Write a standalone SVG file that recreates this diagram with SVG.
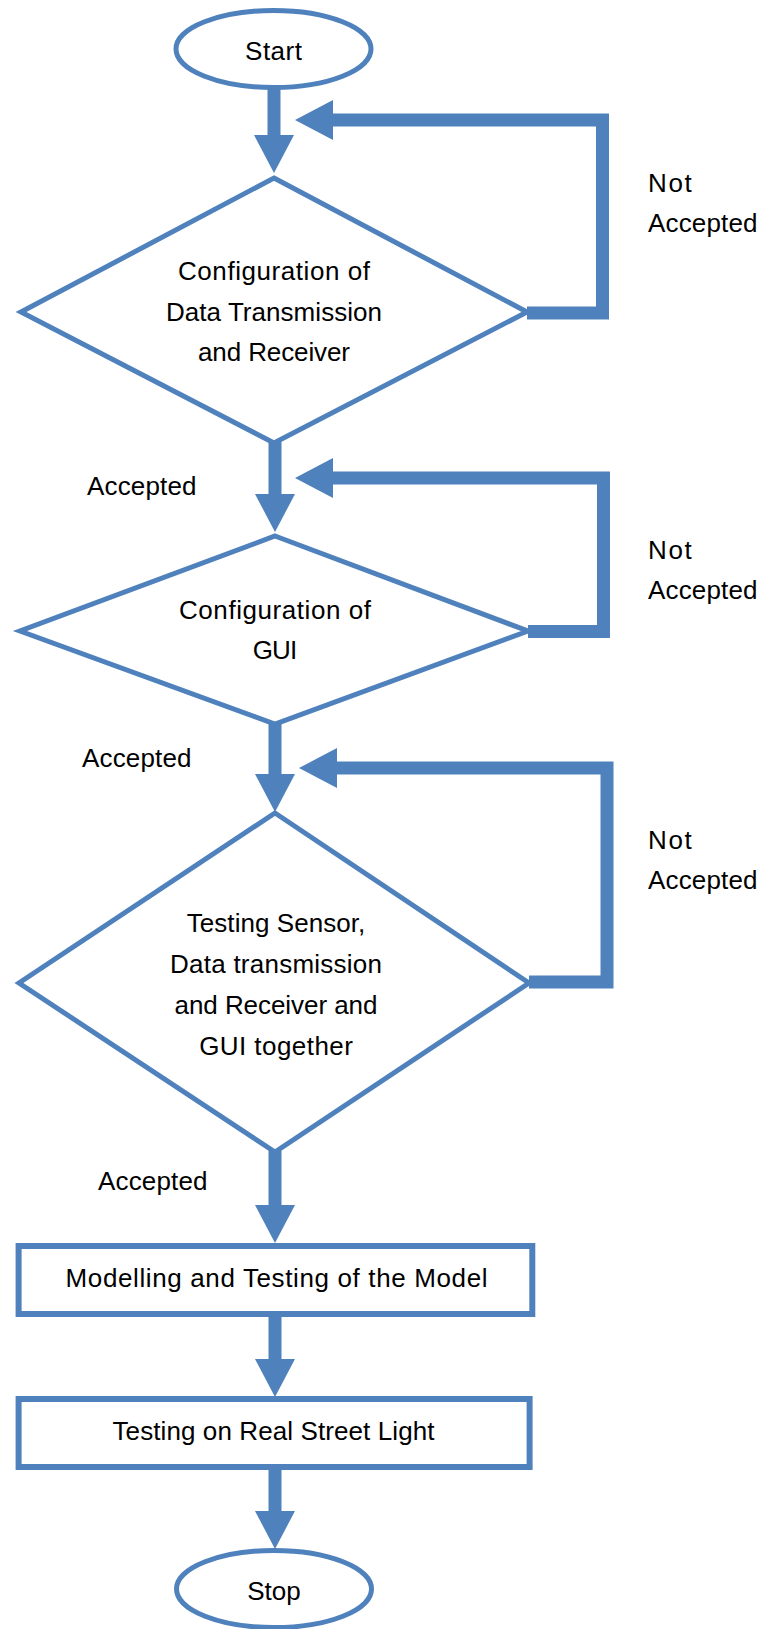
<svg xmlns="http://www.w3.org/2000/svg" width="763" height="1629" viewBox="0 0 763 1629">
  <style>
    .shape { fill: #ffffff; stroke: #4F81BD; stroke-width: 5; stroke-linejoin: miter; }
    .box { fill: #ffffff; stroke: #4F81BD; stroke-width: 6; }
    .conn { fill: none; stroke: #4F81BD; stroke-width: 13; stroke-linejoin: miter; stroke-linecap: butt; }
    .t { font-family: "Liberation Sans", Arial, sans-serif; font-size: 26px; fill: #000000; }
    .c { text-anchor: middle; }
  </style>
  <defs>
    <marker id="head" markerUnits="userSpaceOnUse" markerWidth="38" markerHeight="40" refX="0" refY="20" orient="auto" overflow="visible">
      <path d="M0,0 L38,20 L0,40 Z" fill="#4F81BD"/>
    </marker>
  </defs>
  <rect width="763" height="1629" fill="#ffffff"/>

  <g id="connectors">
    <path class="conn" d="M274,88 V135" marker-end="url(#head)"/>
    <path class="conn" d="M275,442 V494" marker-end="url(#head)"/>
    <path class="conn" d="M275,723 V774" marker-end="url(#head)"/>
    <path class="conn" d="M275,1151 V1205" marker-end="url(#head)"/>
    <path class="conn" d="M275,1316 V1359" marker-end="url(#head)"/>
    <path class="conn" d="M275,1469 V1511" marker-end="url(#head)"/>
    <path class="conn" d="M527,313 H602.5 V120 H333" marker-end="url(#head)"/>
    <path class="conn" d="M528,631.5 H603.5 V478 H333" marker-end="url(#head)"/>
    <path class="conn" d="M529,982 H607 V768 H337" marker-end="url(#head)"/>
  </g>

  <g id="start">
    <ellipse class="shape" cx="273.5" cy="49" rx="97.5" ry="38.5"/>
    <text class="t c" x="273.5" y="60" textLength="56.8" lengthAdjust="spacing">Start</text>
  </g>

  <g id="config-data">
    <polygon class="shape" points="274,178 527,312 274,443 21,312"/>
    <text class="t c" x="274" y="280" textLength="192" lengthAdjust="spacing">Configuration of</text>
    <text class="t c" x="274" y="320.5" textLength="216" lengthAdjust="spacing">Data Transmission</text>
    <text class="t c" x="274" y="360.5" textLength="152" lengthAdjust="spacing">and Receiver</text>
  </g>

  <g id="config-gui">
    <polygon class="shape" points="275,536 528,631 275,724 20,631"/>
    <text class="t c" x="275" y="619" textLength="192" lengthAdjust="spacing">Configuration of</text>
    <text class="t c" x="275" y="659" textLength="44.5" lengthAdjust="spacing">GUI</text>
  </g>

  <g id="testing-together">
    <polygon class="shape" points="275,813 529,983 275,1152 19,983"/>
    <text class="t c" x="276" y="932" textLength="178.5" lengthAdjust="spacing">Testing Sensor,</text>
    <text class="t c" x="276" y="973" textLength="211.8" lengthAdjust="spacing">Data transmission</text>
    <text class="t c" x="276" y="1014" textLength="203" lengthAdjust="spacing">and Receiver and</text>
    <text class="t c" x="276" y="1055" textLength="153.7" lengthAdjust="spacing">GUI together</text>
  </g>

  <g id="modelling">
    <rect class="box" x="18.6" y="1246" width="513.7" height="68"/>
    <text class="t c" x="276.5" y="1287" textLength="422" lengthAdjust="spacing">Modelling and Testing of the Model</text>
  </g>

  <g id="street-light">
    <rect class="box" x="18.6" y="1399" width="511" height="68"/>
    <text class="t c" x="273.5" y="1440" textLength="322" lengthAdjust="spacing">Testing on Real Street Light</text>
  </g>

  <g id="stop">
    <ellipse class="shape" cx="274" cy="1589" rx="97.5" ry="38.5"/>
    <text class="t c" x="274" y="1600" textLength="53.5" lengthAdjust="spacing">Stop</text>
  </g>

  <g id="labels">
    <text class="t" x="648" y="192" textLength="43.7" lengthAdjust="spacing">Not</text>
    <text class="t" x="648" y="232" textLength="109.5" lengthAdjust="spacing">Accepted</text>
    <text class="t" x="648" y="559" textLength="43.7" lengthAdjust="spacing">Not</text>
    <text class="t" x="648" y="599" textLength="109.5" lengthAdjust="spacing">Accepted</text>
    <text class="t" x="648" y="849" textLength="43.7" lengthAdjust="spacing">Not</text>
    <text class="t" x="648" y="889" textLength="109.5" lengthAdjust="spacing">Accepted</text>
    <text class="t" x="87" y="495" textLength="109.5" lengthAdjust="spacing">Accepted</text>
    <text class="t" x="82" y="767" textLength="109.5" lengthAdjust="spacing">Accepted</text>
    <text class="t" x="98" y="1190" textLength="109.5" lengthAdjust="spacing">Accepted</text>
  </g>
</svg>
